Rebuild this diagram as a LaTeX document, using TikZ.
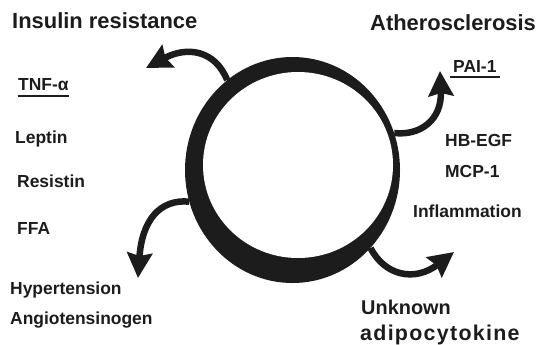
\documentclass[tikz,border=0pt]{standalone}
\usepackage{fontspec}
\setmainfont{Liberation Sans}
\usepackage{tikz}
\usetikzlibrary{arrows.meta, positioning, calc, shapes.geometric}
\definecolor{ringink}{RGB}{28, 28, 28}

\begin{document}
\begin{tikzpicture}[
        x=1bp, y=-1bp,
        heading/.style={anchor=base west, inner sep=0pt, text=ringink,
                        font=\fontsize{22}{26}\selectfont\bfseries},
        factor/.style={anchor=base west, inner sep=0pt, text=ringink,
                       font=\fontsize{17.5}{21}\selectfont\bfseries},
        curvearrow/.style={-{Stealth[length=25bp, width=25bp, inset=3bp]},
                           line width=6.5bp, draw=ringink},
        uline/.style={line width=1.6bp, draw=ringink},
    ]
        \useasboundingbox (0,0) rectangle (540,344);

        % adipocyte: dark ring with off-centre white core
        \node[ellipse, fill=ringink, minimum width=215bp, minimum height=226bp, inner sep=0pt] (ring) at (292.5,170) {};
        \node[ellipse, fill=white, minimum width=190bp, minimum height=186bp, inner sep=0pt] (core) at (298,165) {};

        % headings
        \node[heading] (insulin) at (12,28) {Insulin resistance};
        \node[heading] (athero) at (370,30) {Atherosclerosis};

        % left column
        \node[factor] (tnf) at (18,90) {TNF-α};
        \node[factor] (leptin) at (15,143) {Leptin};
        \node[factor] (resistin) at (17,187) {Resistin};
        \node[factor] (ffa) at (17,234) {FFA};
        \node[factor] (hyper) at (10,294) {Hypertension};
        \node[factor] (angio) at (10,324) {Angiotensinogen};

        % right column
        \node[factor] (pai) at (453,72) {PAI-1};
        \node[factor] (hbegf) at (445,146) {HB-EGF};
        \node[factor] (mcp) at (445,177) {MCP-1};
        \node[factor] (inflam) at (413,217) {Inflammation};
        \node[heading, font=\fontsize{20}{24}\selectfont\bfseries] (unknown) at (361,314) {Unknown};
        \node[heading, font=\fontsize{21.5}{24}\selectfont\bfseries\addfontfeature{LetterSpace=6}] (adipo) at (360,340) {adipocytokine};

        % underlines
        \draw[uline] ($(tnf.base west)+(0,6)$) -- ($(tnf.base east)+(0,6)$);
        \draw[uline] ($(pai.base west)+(-3,5)$) -- ($(pai.base east)+(3,5)$);

        % arrow ends
        \coordinate (toinsulin) at (146,68);
        \coordinate (toathero) at (440,71);
        \coordinate (tohyper) at (138,278);
        \coordinate (tounknown) at (454,252);

        \draw[curvearrow] (ring.126) .. controls (215,50) and (187,46) .. (toinsulin);
        \draw[curvearrow] (ring.20) .. controls (420,136) and (442,120) .. (toathero);
        \draw[curvearrow] (ring.197) .. controls (160,199) and (142,220) .. (tohyper);
        \draw[curvearrow] (ring.-45) .. controls (385,276) and (415,282) .. (tounknown);
    \end{tikzpicture}
\end{document}
